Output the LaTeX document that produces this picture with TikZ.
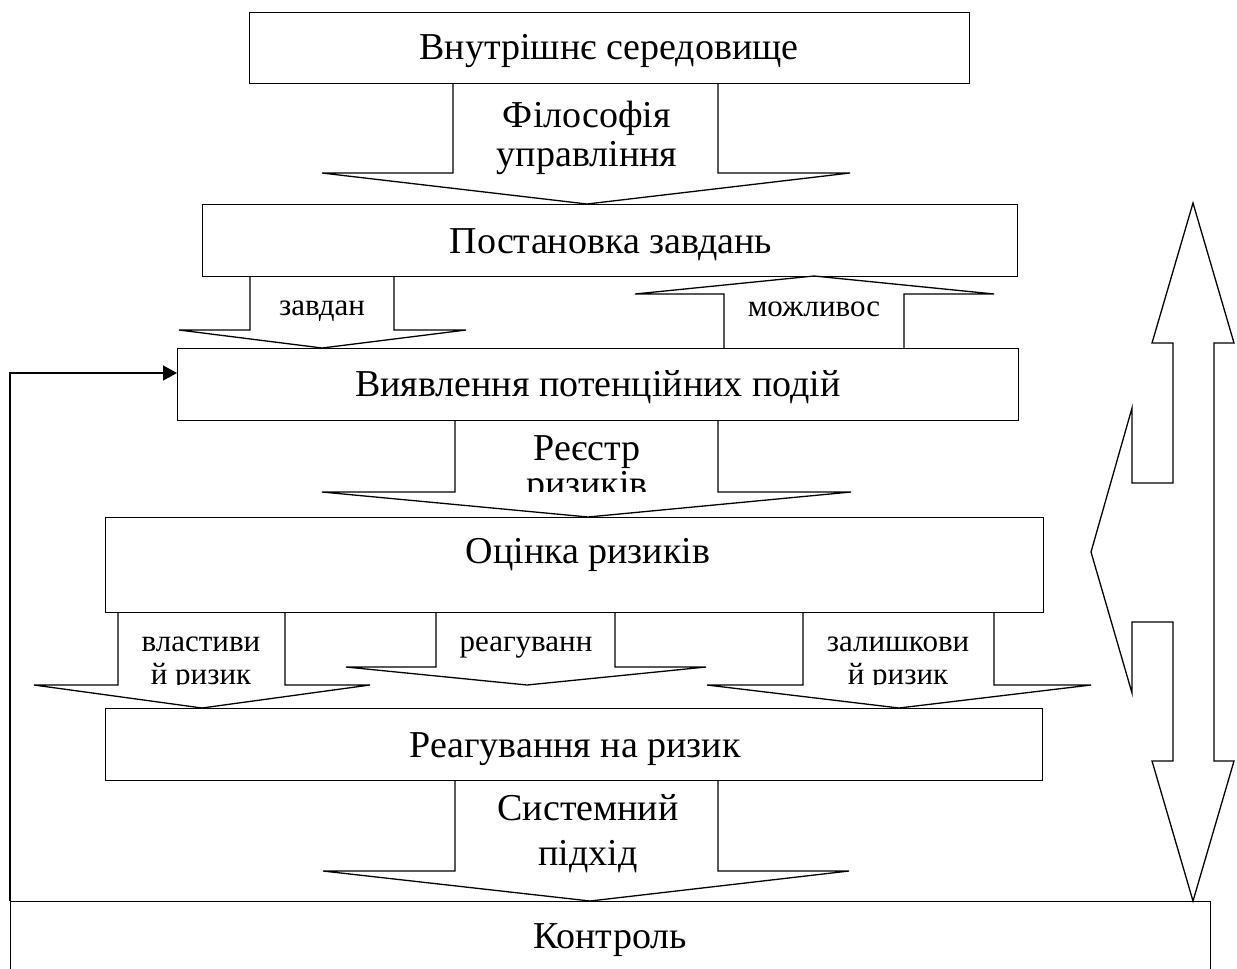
\documentclass[tikz,border=0pt]{standalone}
\usepackage{fontspec}
\setmainfont{Liberation Serif}
\usetikzlibrary{arrows.meta}
\newcommand{\blkdown}[7]{\draw[blk] (#1,#3) -- (#1,#4) -- (#5,#4) -- (#7) -- (#6,#4) -- (#2,#4) -- (#2,#3);}
\begin{document}
\begin{tikzpicture}[x=1pt,y=-1pt, line width=1.4pt, line join=miter,
  box/.style={draw, rectangle, inner sep=0pt, anchor=north west},
  big/.style={font=\fontsize{38}{40}\selectfont, inner sep=0pt, anchor=base},
  small/.style={font=\fontsize{31}{33}\selectfont, inner sep=0pt, anchor=base},
  blk/.style={draw, line width=1.3pt},
  fb/.style={draw, line width=1.4pt, -{Triangle[length=14pt,width=15pt]}}]
\useasboundingbox (0,0) rectangle (1237,969);
\clip (0,0) rectangle (1237,969);
% boxes
\node[box, minimum width=720pt, minimum height=71pt] (b1) at (249,12) {};
\node[box, minimum width=815pt, minimum height=72pt] (b2) at (202,204) {};
\node[box, minimum width=841pt, minimum height=72pt] (b3) at (177,348) {};
\node[box, minimum width=938pt, minimum height=95pt] (b4) at (105,517) {};
\node[box, minimum width=937pt, minimum height=72pt] (b5) at (105,708) {};
\node[box, minimum width=1200pt, minimum height=120pt] (b6) at (10,901) {};
% block arrows
\blkdown{453}{718}{83}{173}{322}{850}{587,204}
\blkdown{250}{394}{276}{330}{179}{466}{322,348}
\draw[blk] (724,348) -- (724,294) -- (635,294) -- (814,276) -- (994,294) -- (904,294) -- (904,348);
\blkdown{455}{718}{420}{492}{322}{851}{588,517}
\blkdown{118}{285}{612}{685}{34}{370}{202,708}
\blkdown{436}{615}{612}{667}{346}{706}{527,685}
\blkdown{803}{994}{612}{685}{707}{1091}{899,708}
\blkdown{455}{718}{780}{871}{323}{849}{590,901}
% right triple arrow
\draw[blk] (1193,203) -- (1234,343) -- (1214,343) -- (1214,761) -- (1234,761) -- (1193,901)
  -- (1152,761) -- (1173,761) -- (1173,622) -- (1132,622) -- (1132,693) -- (1091,552)
  -- (1132,408) -- (1132,483) -- (1173,483) -- (1173,343) -- (1152,343) -- cycle;
% texts
\node[big] (t1) at (609,59) {Внутрішнє середовище};
\node[big] (t2a) at (587,127) {Філософія};
\node[big] (t2b) at (587,166) {управління};
\node[big] (t3) at (611,253) {Постановка завдань};
\node[small] (t4) at (322,315) {завдан};
\node[small] (t5) at (814,316) {можливос};
\node[big] (t6) at (598,396) {Виявлення потенційних подій};
\node[big] (t7a) at (587,460) {Реєстр};
\begin{scope}
\clip (455,420) rectangle (718,491);
\node[big] (t7b) at (587,496) {ризиків};
\end{scope}
\node[big] (t8) at (588,563) {Оцінка ризиків};
\node[small] (t9a) at (201,651) {властиви};
\begin{scope}
\clip (118,612) rectangle (285,684);
\node[small] (t9b) at (201,684) {й ризик};
\end{scope}
\node[small] (t10) at (526,651) {реагуванн};
\node[small] (t11a) at (898,651) {залишкови};
\begin{scope}
\clip (803,612) rectangle (994,684);
\node[small] (t11b) at (898,684) {й ризик};
\end{scope}
\node[big] (t12) at (575,757) {Реагування на ризик};
\node[big] (t13a) at (588,820) {Системний};
\node[big] (t13b) at (588,865) {підхід};
\node[big] (t14) at (610,948) {Контроль};
% feedback
\coordinate (fbc) at (10,373);
\draw[fb] (b6.north west) -- (fbc) -- (fbc -| b3.west);
\end{tikzpicture}
\end{document}
